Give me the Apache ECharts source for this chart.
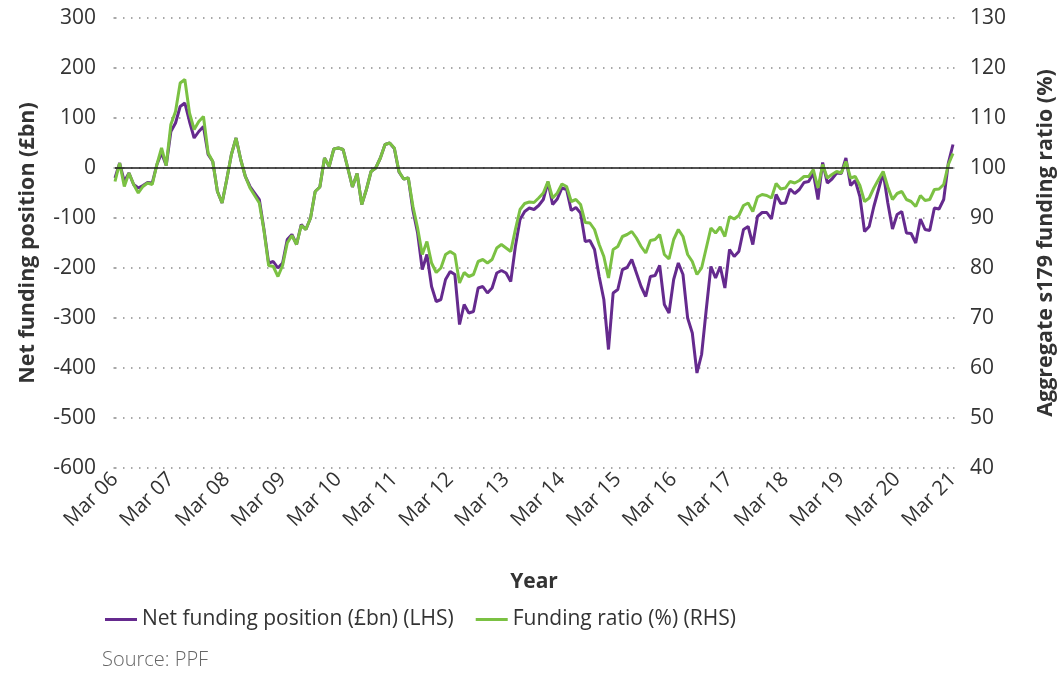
<!DOCTYPE html>
<html>
<head>
<meta charset="utf-8">
<script src="https://cdn.jsdelivr.net/npm/echarts@6/dist/echarts.min.js"></script>
<style>
  html, body { margin: 0; padding: 0; background: #fff; }
  #chart { width: 1061px; height: 680px; }
</style>
</head>
<body>
<div id="chart"></div>
<script>
// monthly, Mar 06 .. Mar 21
var monthNames = ['Jan', 'Feb', 'Mar', 'Apr', 'May', 'Jun', 'Jul', 'Aug', 'Sep', 'Oct', 'Nov', 'Dec'];
var months = [];
for (var y = 2006; y <= 2021; y++) {
    for (var m = 0; m < 12; m++) {
        if (y === 2006 && m < 2) continue;
        if (y === 2021 && m > 2) break;
        months.push(monthNames[m] + ' ' + String(y).slice(2));
    }
}

var leftTicks = [-600, 300, 100];   // min, max, step
var rightTicks = [40, 130, 10];

// net funding position (£bn)
var netFunding = [
    -20, 10, -27, -10, -33, -40, -35, -29, -30, 7, 30, 5,
    73, 90, 123, 130, 93, 60, 73, 83, 27, 13, -47, -70,
    -23, 27, 60, 17, -17, -37, -50, -63, -123, -190, -187, -200,
    -190, -143, -133, -153, -113, -123, -100, -47, -38, 20, 3, 38,
    40, 37, 0, -38, -11, -73, -43, -7, 0, 20, 47, 50,
    39, -8, -22, -20, -85, -130, -203, -173, -237, -267, -263, -223,
    -207, -213, -313, -273, -290, -287, -240, -237, -250, -240, -210, -205,
    -210, -227, -157, -103, -87, -80, -83, -75, -63, -28, -73, -62,
    -40, -43, -85, -79, -90, -147, -145, -163, -217, -263, -363, -250,
    -243, -203, -199, -183, -210, -237, -257, -217, -215, -195, -273, -290,
    -223, -190, -213, -300, -330, -410, -373, -283, -197, -220, -197, -240,
    -163, -177, -167, -123, -117, -153, -97, -89, -89, -102, -53, -71,
    -70, -42, -51, -43, -29, -27, -10, -63, 11, -30, -22, -10,
    -11, 20, -35, -25, -57, -127, -117, -77, -43, -9, -70, -122,
    -93, -87, -130, -131, -150, -102, -123, -125, -80, -82, -63, 10,
    47
];

// aggregate s179 funding ratio (%)
var fundingRatio = [
    97.3, 101, 96.3, 99, 96.7, 95, 96.3, 97, 96.7, 100.7, 104, 100.5,
    108.7, 111.3, 117, 117.7, 111, 107.7, 109.3, 110.3, 103, 101.3, 95.3, 93,
    97.7, 102.7, 106, 101.7, 98.3, 96, 94.5, 93, 87.5, 80.5, 80.3, 78.3,
    80.5, 85, 86.5, 84.7, 88.5, 87.7, 90, 95.3, 96.2, 102, 100.3, 103.8,
    104, 103.7, 100, 96.2, 98.9, 92.7, 95.7, 99.3, 100, 102, 104.7, 105,
    104, 99.3, 97.8, 98, 92.3, 88, 82.7, 85.3, 81, 79.1, 80, 82.7,
    83.3, 82.7, 77, 79.1, 78.3, 78.7, 81.3, 81.7, 81, 81.7, 84, 84.7,
    84, 83.3, 87.7, 91.7, 92.9, 93.2, 93.1, 94, 95, 97.3, 94, 95,
    96.8, 96.3, 93.3, 93.7, 92.7, 89.1, 89, 87.7, 84.7, 82.3, 78, 83.7,
    84.3, 86.3, 86.7, 87.3, 86, 84.3, 83, 85.5, 85.7, 86.7, 82.7, 81.8,
    85.7, 87.7, 86.3, 82.7, 81.3, 78.7, 80, 84, 88, 87, 88.2, 86.3,
    90.3, 89.8, 90.5, 92.5, 93, 91.3, 94.2, 94.7, 94.5, 94, 96.9, 95.8,
    96, 97.3, 97, 97.5, 98.3, 98.3, 99.7, 96, 100.7, 98, 98.7, 99.3,
    99, 101.3, 98, 98.3, 96.5, 93.3, 94, 96, 97.7, 99.3, 96.2, 93.7,
    94.9, 95.3, 93.7, 93.3, 92.3, 94.5, 93.5, 93.7, 95.7, 95.8, 96.7, 100.7,
    102.9
];

var font = '"Open Sans", "Noto Sans", sans-serif';
var textColor = '#333333';
var dotted = { color: '#8c8c8c', width: 1.5, type: [1.5, 6.5] };

var myChart = echarts.init(document.getElementById('chart'), null, { renderer: 'canvas' });
myChart.setOption({
    animation: false,
    textStyle: { fontFamily: font },
    grid: { left: 115, right: 108, top: 18, bottom: 212, containLabel: false, outerBoundsMode: 'none' },
    legend: {
        left: 100,
        top: 604,
        itemWidth: 32,
        itemHeight: 3,
        itemGap: 22,
        icon: 'rect',
        textStyle: { fontFamily: font, fontSize: 21, color: textColor },
        data: ['Net funding position (£bn) (LHS)', 'Funding ratio (%) (RHS)']
    },
    graphic: [{
        type: 'text',
        left: 102,
        top: 650,
        style: { text: 'Source: PPF', font: '300 20px ' + font, fill: '#666666' }
    }],
    xAxis: {
        type: 'category',
        data: months,
        boundaryGap: false,
        name: 'Year',
        nameLocation: 'middle',
        nameGap: 104,
        nameTextStyle: { fontFamily: font, fontSize: 21, fontWeight: 'bold', color: textColor },
        axisLine: { show: false, onZero: false },
        axisTick: { show: false },
        axisLabel: {
            interval: 11,
            rotate: 45,
            margin: 8,
            fontSize: 20.5,
            color: textColor,
            fontFamily: font
        },
        splitLine: { show: false }
    },
    yAxis: [{
        type: 'value',
        min: leftTicks[0],
        max: leftTicks[1],
        interval: leftTicks[2],
        name: 'Net funding position (£bn)',
        nameLocation: 'middle',
        nameGap: 76,
        nameTextStyle: { fontFamily: font, fontSize: 21.5, fontWeight: 'bold', color: textColor },
        axisLine: { show: false },
        axisTick: { show: true, length: 7, lineStyle: dotted },
        axisLabel: { fontSize: 21, color: textColor, margin: 19, fontFamily: font },
        splitLine: { show: true, lineStyle: dotted }
    }, {
        type: 'value',
        min: rightTicks[0],
        max: rightTicks[1],
        interval: rightTicks[2],
        name: 'Aggregate s179 funding ratio (%)',
        nameLocation: 'middle',
        nameGap: 82,
        nameRotate: 90,
        nameTextStyle: { fontFamily: font, fontSize: 21.5, fontWeight: 'bold', color: textColor },
        axisLine: { show: false },
        axisTick: { show: true, length: 7, lineStyle: dotted },
        axisLabel: { fontSize: 21, color: textColor, margin: 17, fontFamily: font },
        splitLine: { show: false }
    }],
    series: [{
        name: 'Net funding position (£bn) (LHS)',
        type: 'line',
        yAxisIndex: 0,
        data: netFunding,
        symbol: 'none',
        color: '#652a8e',
        lineStyle: { width: 3, color: '#652a8e' },
        markLine: {
            silent: true,
            symbol: 'none',
            label: { show: false },
            lineStyle: { color: '#1a1a1a', width: 1.5, type: 'solid' },
            data: [{ yAxis: 0 }]
        },
        z: 2
    }, {
        name: 'Funding ratio (%) (RHS)',
        type: 'line',
        yAxisIndex: 1,
        data: fundingRatio,
        symbol: 'none',
        color: '#7bc143',
        lineStyle: { width: 3, color: '#7bc143' },
        z: 3
    }]
});
</script>
</body>
</html>
